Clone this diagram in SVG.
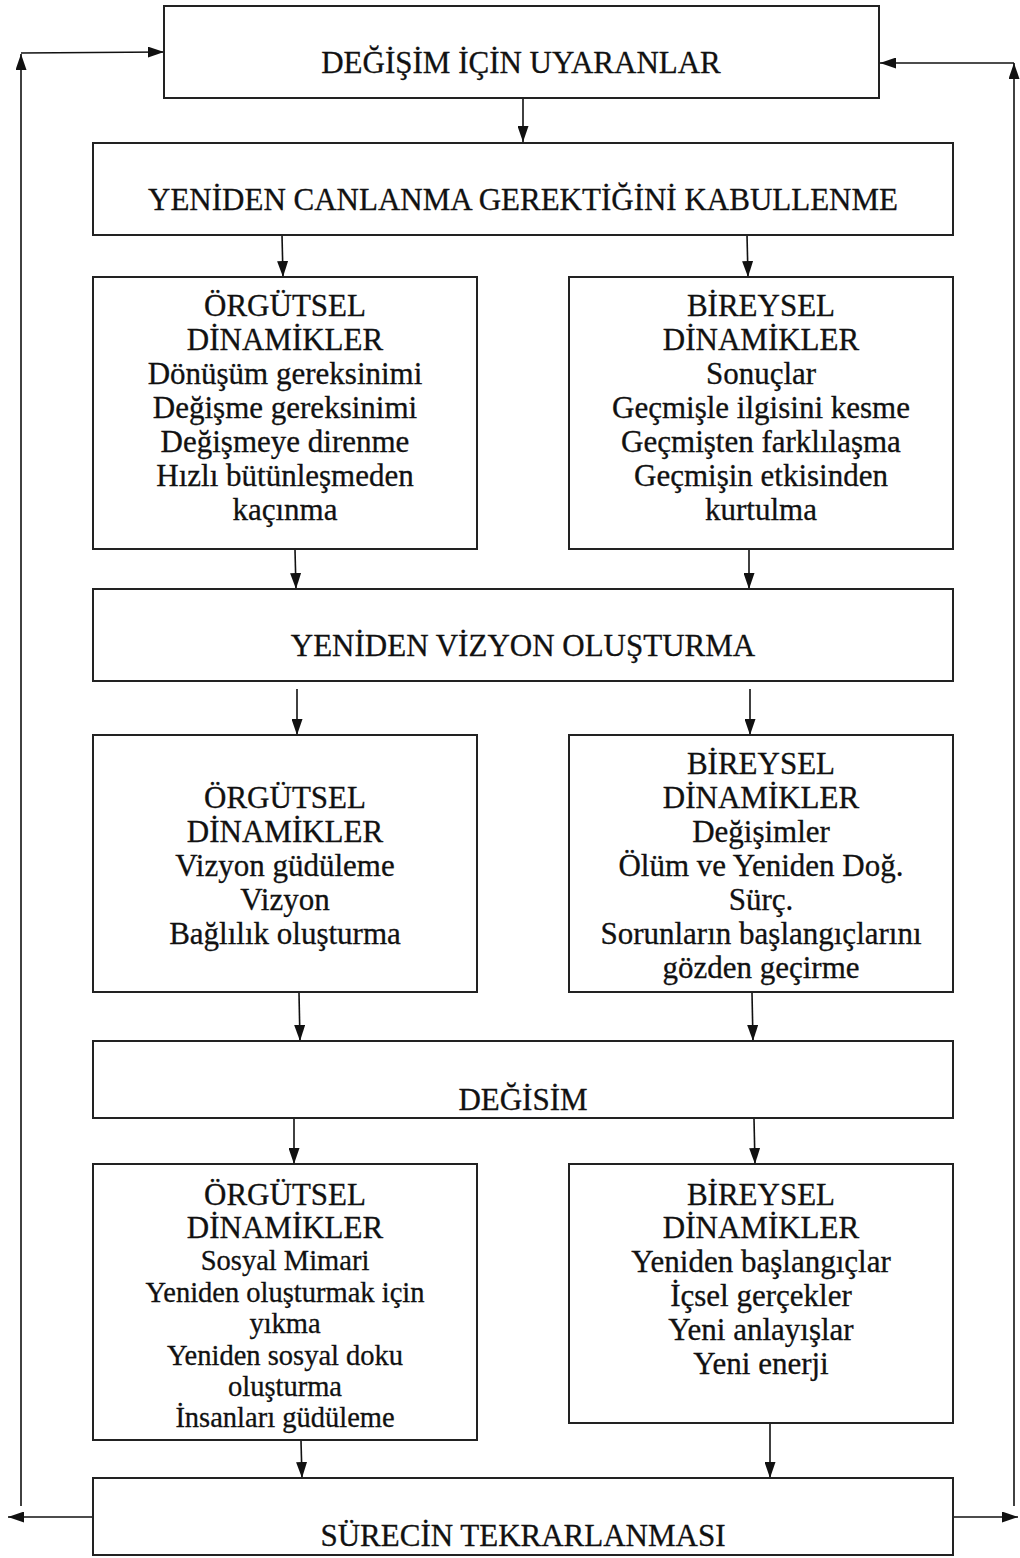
<svg xmlns="http://www.w3.org/2000/svg" width="1020" height="1558" viewBox="0 0 1020 1558">
<defs>
<marker id="ah" markerWidth="16" markerHeight="11" refX="16" refY="5.5" orient="auto" markerUnits="userSpaceOnUse" viewBox="0 0 16 11">
<path d="M0,0 L16,5.5 L0,11 Z" fill="#111"/>
</marker>
</defs>
<style>
.box{fill:#fff;stroke:#222;stroke-width:2}
.t{font-family:"Liberation Serif","Times New Roman",serif;font-size:31px;fill:#111;stroke:#111;stroke-width:0.3;text-anchor:middle}
.s{font-size:28.5px}
.c{fill:none;stroke:#111;stroke-width:1.6}
.ca{fill:none;stroke:#111;stroke-width:1.6;marker-end:url(#ah)}
</style>
<rect width="1020" height="1558" fill="#fff"/>
<g id="connectors">
<line class="ca" x1="523" y1="98" x2="523" y2="142"/>
<line class="ca" x1="282" y1="235" x2="283" y2="277"/>
<line class="ca" x1="747" y1="235" x2="748" y2="277"/>
<line class="ca" x1="295" y1="550" x2="296" y2="589"/>
<line class="ca" x1="749" y1="550" x2="749" y2="589"/>
<line class="ca" x1="297" y1="689" x2="297" y2="735"/>
<line class="ca" x1="750" y1="689" x2="750" y2="735"/>
<line class="ca" x1="299" y1="993" x2="300" y2="1041"/>
<line class="ca" x1="752" y1="993" x2="753" y2="1041"/>
<line class="ca" x1="294" y1="1119" x2="294" y2="1164"/>
<line class="ca" x1="754" y1="1119" x2="755" y2="1164"/>
<line class="ca" x1="301" y1="1441" x2="302" y2="1478"/>
<line class="ca" x1="770" y1="1424" x2="770" y2="1478"/>
<line class="ca" x1="93" y1="1517" x2="8" y2="1517"/>
<line class="ca" x1="953" y1="1517" x2="1018" y2="1517"/>
<line class="ca" x1="21" y1="1506" x2="21" y2="54"/>
<line class="ca" x1="21" y1="53" x2="164" y2="52"/>
<line class="ca" x1="1014" y1="1506" x2="1014" y2="63"/>
<line class="ca" x1="1014" y1="63" x2="880" y2="63"/>
</g>
<g id="n1"><rect class="box" x="164" y="6" width="715" height="92"/>
<text class="t" x="521" y="73">DEĞİŞİM İÇİN UYARANLAR</text></g>
<g id="n2"><rect class="box" x="93" y="143" width="860" height="92"/>
<text class="t" x="523" y="210">YENİDEN CANLANMA GEREKTİĞİNİ KABULLENME</text></g>
<g id="n3"><rect class="box" x="93" y="277" width="384" height="272"/>
<text class="t" x="285" y="316">ÖRGÜTSEL</text>
<text class="t" x="285" y="350">DİNAMİKLER</text>
<text class="t" x="285" y="384">Dönüşüm gereksinimi</text>
<text class="t" x="285" y="418">Değişme gereksinimi</text>
<text class="t" x="285" y="452">Değişmeye direnme</text>
<text class="t" x="285" y="486">Hızlı bütünleşmeden</text>
<text class="t" x="285" y="520">kaçınma</text></g>
<g id="n4"><rect class="box" x="569" y="277" width="384" height="272"/>
<text class="t" x="761" y="316">BİREYSEL</text>
<text class="t" x="761" y="350">DİNAMİKLER</text>
<text class="t" x="761" y="384">Sonuçlar</text>
<text class="t" x="761" y="418">Geçmişle ilgisini kesme</text>
<text class="t" x="761" y="452">Geçmişten farklılaşma</text>
<text class="t" x="761" y="486">Geçmişin etkisinden</text>
<text class="t" x="761" y="520">kurtulma</text></g>
<g id="n5"><rect class="box" x="93" y="589" width="860" height="92"/>
<text class="t" x="523" y="656">YENİDEN VİZYON OLUŞTURMA</text></g>
<g id="n6"><rect class="box" x="93" y="735" width="384" height="257"/>
<text class="t" x="285" y="808">ÖRGÜTSEL</text>
<text class="t" x="285" y="842">DİNAMİKLER</text>
<text class="t" x="285" y="876">Vizyon güdüleme</text>
<text class="t" x="285" y="910">Vizyon</text>
<text class="t" x="285" y="944">Bağlılık oluşturma</text></g>
<g id="n7"><rect class="box" x="569" y="735" width="384" height="257"/>
<text class="t" x="761" y="774">BİREYSEL</text>
<text class="t" x="761" y="808">DİNAMİKLER</text>
<text class="t" x="761" y="842">Değişimler</text>
<text class="t" x="761" y="876">Ölüm ve Yeniden Doğ.</text>
<text class="t" x="761" y="910">Sürç.</text>
<text class="t" x="761" y="944">Sorunların başlangıçlarını</text>
<text class="t" x="761" y="978">gözden geçirme</text></g>
<g id="n8"><rect class="box" x="93" y="1041" width="860" height="77"/>
<text class="t" x="523" y="1110">DEĞİSİM</text></g>
<g id="n9"><rect class="box" x="93" y="1164" width="384" height="276"/>
<text class="t" x="285" y="1205">ÖRGÜTSEL</text>
<text class="t" x="285" y="1238">DİNAMİKLER</text>
<text class="t s" x="285" y="1270">Sosyal Mimari</text>
<text class="t s" x="285" y="1302">Yeniden oluşturmak için</text>
<text class="t s" x="285" y="1333">yıkma</text>
<text class="t s" x="285" y="1365">Yeniden sosyal doku</text>
<text class="t s" x="285" y="1396">oluşturma</text>
<text class="t s" x="285" y="1427">İnsanları güdüleme</text></g>
<g id="n10"><rect class="box" x="569" y="1164" width="384" height="259"/>
<text class="t" x="761" y="1205">BİREYSEL</text>
<text class="t" x="761" y="1238">DİNAMİKLER</text>
<text class="t" x="761" y="1272">Yeniden başlangıçlar</text>
<text class="t" x="761" y="1306">İçsel gerçekler</text>
<text class="t" x="761" y="1340">Yeni anlayışlar</text>
<text class="t" x="761" y="1374">Yeni enerji</text></g>
<g id="n11"><rect class="box" x="93" y="1478" width="860" height="77"/>
<text class="t" x="523" y="1546">SÜRECİN TEKRARLANMASI</text></g>
</svg>
